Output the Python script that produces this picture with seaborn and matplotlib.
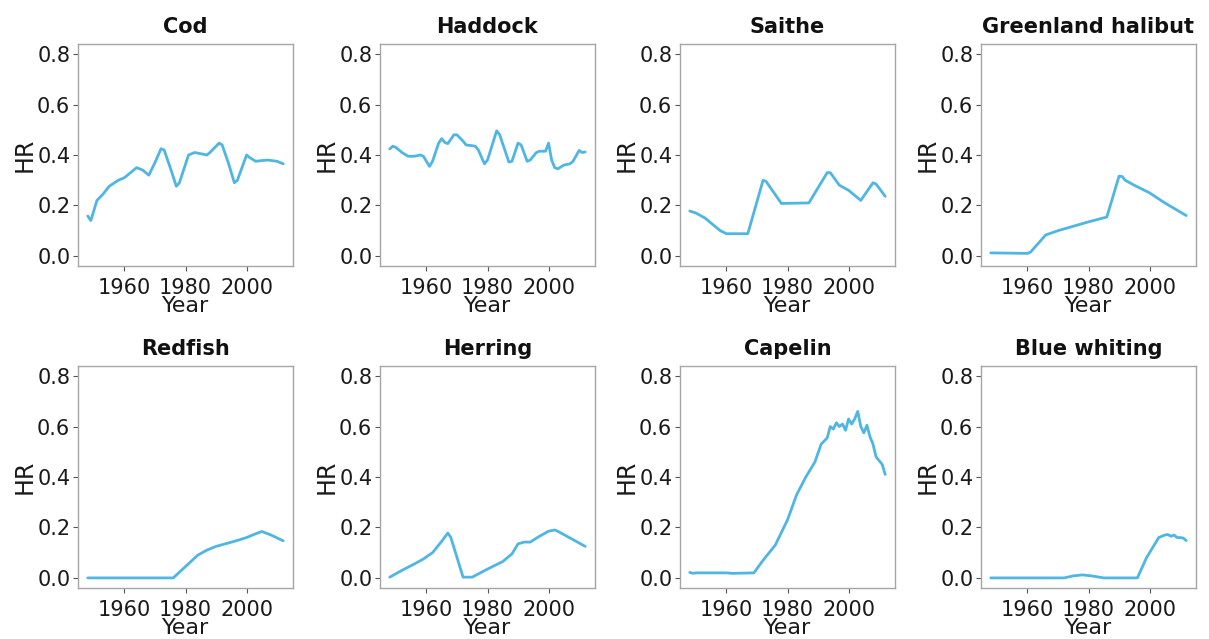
import numpy as np
import pandas as pd
import matplotlib
matplotlib.use("Agg")
import matplotlib.pyplot as plt
import seaborn as sns

species = ["Cod", "Haddock", "Saithe", "Greenland halibut",
           "Redfish", "Herring", "Capelin", "Blue whiting"]

cod_year = [1948, 1949, 1951, 1953, 1955, 1958, 1960, 1962, 1964, 1966, 1968, 1970, 1972, 1973, 1975, 1977, 1978,
            1981, 1983, 1985, 1987, 1988, 1991, 1992, 1994, 1996, 1997, 2000, 2001, 2003, 2005, 2007, 2010, 2012]
cod_hr = [0.158, 0.14, 0.22, 0.245, 0.276, 0.30, 0.31, 0.33, 0.35, 0.34, 0.32, 0.37, 0.425, 0.42, 0.35, 0.276, 0.29,
          0.40, 0.41, 0.405, 0.40, 0.41, 0.447, 0.44, 0.37, 0.29, 0.30, 0.40, 0.39, 0.375, 0.378, 0.38, 0.375, 0.365]

had_year = [1948, 1949, 1950, 1952, 1954, 1956, 1958, 1959, 1961, 1962, 1964, 1965, 1966, 1967, 1969, 1970, 1972,
            1973, 1976, 1977, 1979, 1980, 1983, 1984, 1987, 1988, 1990, 1991, 1993, 1994, 1996, 1997, 1999, 2000,
            2001, 2002, 2003, 2005, 2007, 2008, 2010, 2011, 2012]
had_hr = [0.424, 0.435, 0.43, 0.41, 0.395, 0.395, 0.40, 0.395, 0.355, 0.375, 0.447, 0.465, 0.45, 0.445, 0.48, 0.48,
          0.455, 0.44, 0.435, 0.42, 0.365, 0.38, 0.496, 0.48, 0.372, 0.375, 0.447, 0.44, 0.375, 0.38, 0.41, 0.415,
          0.415, 0.447, 0.38, 0.35, 0.345, 0.36, 0.365, 0.375, 0.418, 0.41, 0.412]

sai_year = [1948, 1950, 1953, 1955, 1958, 1960, 1967, 1972, 1973, 1978, 1987, 1993, 1994, 1997, 2000, 2004, 2008,
            2009, 2012]
sai_hr = [0.178, 0.17, 0.15, 0.13, 0.10, 0.088, 0.088, 0.30, 0.295, 0.208, 0.21, 0.33, 0.33, 0.28, 0.26, 0.22, 0.29,
          0.285, 0.236]

ghl_year = [1948, 1960, 1961, 1966, 1970, 1980, 1986, 1990, 1991, 1992, 1995, 2000, 2005, 2012]
ghl_hr = [0.012, 0.01, 0.015, 0.083, 0.10, 0.135, 0.154, 0.316, 0.315, 0.30, 0.28, 0.25, 0.21, 0.16]

red_year = [1948, 1960, 1976, 1980, 1984, 1987, 1990, 1993, 1996, 2000, 2003, 2005, 2008, 2012]
red_hr = [0.0, 0.0, 0.0, 0.045, 0.09, 0.11, 0.125, 0.135, 0.145, 0.16, 0.175, 0.184, 0.17, 0.147]

her_year = [1948, 1952, 1956, 1959, 1962, 1965, 1967, 1968, 1972, 1975, 1980, 1985, 1988, 1990, 1992, 1994, 1997,
            2000, 2002, 2003, 2006, 2009, 2012]
her_hr = [0.003, 0.03, 0.055, 0.075, 0.10, 0.145, 0.178, 0.16, 0.003, 0.003, 0.035, 0.065, 0.095, 0.135, 0.142,
          0.142, 0.165, 0.185, 0.19, 0.185, 0.165, 0.145, 0.125]

cap_year = [1948, 1949, 1950, 1960, 1962, 1969, 1972, 1976, 1980, 1983, 1986, 1989, 1991, 1993, 1994, 1995, 1996,
            1997, 1998, 1999, 2000, 2001, 2002, 2003, 2004, 2005, 2006, 2007, 2008, 2009, 2011, 2012]
cap_hr = [0.022, 0.018, 0.02, 0.02, 0.018, 0.02, 0.07, 0.13, 0.23, 0.33, 0.40, 0.46, 0.53, 0.555, 0.60, 0.59, 0.615,
          0.60, 0.61, 0.585, 0.63, 0.61, 0.63, 0.66, 0.60, 0.575, 0.605, 0.56, 0.53, 0.48, 0.45, 0.41]

blw_year = [1948, 1972, 1975, 1978, 1981, 1985, 1996, 1999, 2001, 2003, 2005, 2006, 2007, 2008, 2009, 2010, 2011,
            2012]
blw_hr = [0.0, 0.0, 0.008, 0.012, 0.008, 0.0, 0.0, 0.08, 0.12, 0.16, 0.17, 0.172, 0.165, 0.17, 0.16, 0.16, 0.158,
          0.148]

years = [cod_year, had_year, sai_year, ghl_year, red_year, her_year, cap_year, blw_year]
values = [cod_hr, had_hr, sai_hr, ghl_hr, red_hr, her_hr, cap_hr, blw_hr]

y_ticks = [0.0, 0.2, 0.4, 0.6, 0.8]
y_ticklabels = ["0.0", "0.2", "0.4", "0.6", "0.8"]
x_ticks = [1960, 1980, 2000]
x_ticklabels = ["1960", "1980", "2000"]

frames = [pd.DataFrame({"Species": s, "Year": yr, "HR": v}) for s, yr, v in zip(species, years, values)]
df = pd.concat(frames, ignore_index=True)

sns.set_theme(style="white")
plt.rcParams["font.family"] = ["DejaVu Sans"]

W, H = 1209, 639
fig = plt.figure(figsize=(W / 100, H / 100), dpi=100)

lefts = [78, 380, 680, 981]
tops = [44, 366]
aw, ah = 215, 222

line_color = "#4fb6e3"
grey = "#a6a6a6"

for i, sp in enumerate(species):
    r, c = divmod(i, 4)
    ax = fig.add_axes([lefts[c] / W, 1 - (tops[r] + ah) / H, aw / W, ah / H])
    sub = df[df["Species"] == sp]
    sns.lineplot(data=sub, x="Year", y="HR", ax=ax, color=line_color, linewidth=2.0)
    ax.set_xlim(1944.8, 2015.2)
    ax.set_ylim(-0.04, 0.84)
    ax.set_xticks(x_ticks)
    ax.set_xticklabels(x_ticklabels)
    ax.set_yticks(y_ticks)
    ax.set_yticklabels(y_ticklabels)
    ax.tick_params(axis="both", which="major", length=3.5, width=0.8, color="#555555",
                   labelsize=15, labelcolor="#1a1a1a", direction="out",
                   bottom=True, left=True)
    ax.tick_params(axis="x", pad=5)
    ax.tick_params(axis="y", pad=2)
    for sp_name, spine in ax.spines.items():
        spine.set_color(grey)
        spine.set_linewidth(1.0)
    ax.set_title(sp, fontsize=15, fontweight="bold", color="#111111", pad=8)
    ax.set_xlabel("Year", fontsize=16, color="#1a1a1a", labelpad=-1)
    ax.set_ylabel("HR", fontsize=17, color="#1a1a1a", labelpad=0)
    ax.set_facecolor("white")

fig.savefig("out.png", dpi=100, facecolor="white")
